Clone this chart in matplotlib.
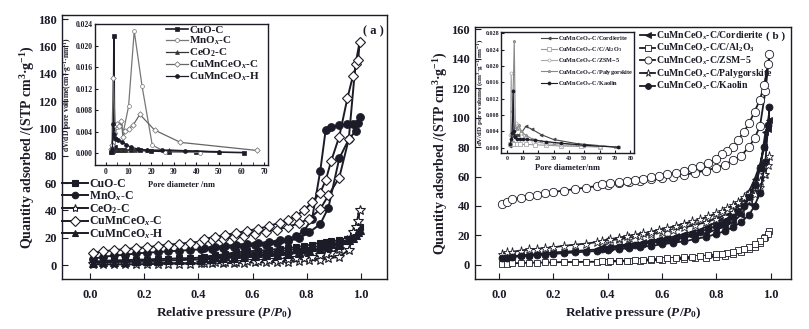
import numpy as np
import matplotlib.pyplot as plt

plt.rcParams['font.family'] = 'Liberation Serif'
plt.rcParams['font.weight'] = 'bold'
plt.rcParams['mathtext.fontset'] = 'custom'
plt.rcParams['mathtext.rm'] = 'Liberation Serif:bold'
plt.rcParams['mathtext.it'] = 'Liberation Serif:italic:bold'
plt.rcParams['mathtext.bf'] = 'Liberation Serif:bold'
ink = '#1c1c28'

# ---------------- panel (a): isotherms ----------------
P_ads_a = [0.01, 0.05, 0.09, 0.13, 0.17, 0.21, 0.25, 0.29, 0.33, 0.37, 0.41, 0.45, 0.49, 0.53,
           0.57, 0.61, 0.65, 0.69, 0.73, 0.77, 0.81, 0.85, 0.88, 0.92, 0.955, 0.98, 0.995]
P_des_a = [0.99, 0.97, 0.95, 0.92, 0.89, 0.87, 0.85, 0.82, 0.79, 0.76, 0.73, 0.70, 0.66, 0.62,
           0.58, 0.54, 0.50, 0.46, 0.42]

cuo_ads = [2.5, 3, 3.5, 3.5, 4, 4, 4.5, 4.5, 5, 5, 5.5, 5.5, 6, 6.5, 7, 7.5, 8, 8.5, 9, 10,
           11, 12, 13.5, 16, 19, 23, 28]
cuo_des = [26, 21, 19, 18, 17.5, 17, 16.5, 15, 14, 13, 12.5, 12, 11, 10.5, 10, 9.5, 8, 7, 6]
mnox_ads = [4.5, 6, 7, 7.5, 8.5, 9, 9.5, 10, 10.5, 11, 11.5, 12, 12.5, 13, 13.5, 14.5, 15, 16,
            17.5, 19.5, 24, 30, 42, 78, 92, 98, 108]
mnox_des = [104, 103, 103, 102.5, 101, 99, 69, 34, 25, 21, 19, 18, 17, 16, 15.5, 15, 14, 13.5, 12.5]
ceo2_ads = [0.5, 0.5, 0.5, 0.5, 0.5, 0.7, 0.8, 1, 1, 1, 1.2, 1.3, 1.5, 1.5, 1.7, 2, 2, 2.2,
            2.5, 3, 3.5, 4, 5, 6, 11, 28, 40]
ceo2_des = [32, 24, 18, 12, 9, 8, 7, 6, 5.5, 5, 4.5, 4, 3.5, 3, 3, 2.5, 2.5, 2, 1.5]
cmcc_ads = [9, 10, 11, 11.5, 12.5, 13, 14, 15, 15.5, 16.5, 17, 18, 19, 20.5, 21.5, 23, 24.5,
            26, 28, 30.5, 34, 41, 51, 64, 92, 147, 163]
cmcc_des = [150, 138, 122, 94, 76, 62, 53, 46, 40, 36, 33, 31, 28.5, 26.5, 25, 23.5, 22, 20.5, 19]
cmch_ads = [1.5, 2, 2.5, 2.5, 3, 3, 3, 3.5, 3.5, 4, 4, 4.5, 5, 5.5, 6, 6.5, 7, 7.5, 8, 9,
            10, 11.5, 13, 15, 18, 22, 26]
cmch_des = [24, 20, 18, 16.5, 15.5, 15, 14, 13, 12, 11.5, 11, 10, 9.5, 9, 8.5, 8, 7, 6, 5]

# panel (a) inset: pore size distribution
cuo_D = [2.2, 2.8, 3.2, 3.5, 3.8, 4.5, 6, 8, 11, 15, 20, 28, 40, 61]
cuo_V = [0.0002, 0.0003, 0.0008, 0.0217, 0.0012, 0.0006, 0.0005, 0.0005, 0.0006, 0.0005,
         0.0004, 0.0003, 0.0003, 0.0001]
mnox_D = [2.0, 2.6, 3.2, 4.0, 5.0, 6.2, 7.8, 10.0, 12.5, 16.0, 20.5, 26.0, 41.5]
mnox_V = [0.0002, 0.0009, 0.0021, 0.0038, 0.0048, 0.0052, 0.0042, 0.0087, 0.0227, 0.0124,
          0.0015, 0.0003, 0.0001]
ceo2_D = [2.0, 3.0, 4.5, 6.5, 9.0, 13.0, 18.0, 28.0, 50.0]
ceo2_V = [0.0003, 0.0004, 0.0005, 0.0006, 0.0005, 0.0006, 0.0005, 0.0006, 0.0002]
cmcc_D = [2.0, 2.6, 3.2, 4.0, 4.8, 5.8, 6.8, 7.5, 8.5, 10.0, 12.0, 15.0, 21.5, 33.0, 67.0]
cmcc_V = [0.0008, 0.0015, 0.0140, 0.0052, 0.0055, 0.0050, 0.0060, 0.0030, 0.0042, 0.0045,
          0.0052, 0.0072, 0.0043, 0.0020, 0.0005]
cmch_D = [2.2, 2.8, 3.2, 3.5, 3.8, 4.5, 5.5, 7.0, 9.0, 11.0, 14.0, 18.0, 25.0, 35.0, 50.0]
cmch_V = [0.0003, 0.0008, 0.0055, 0.0035, 0.0028, 0.0026, 0.0024, 0.0021, 0.0016, 0.0011,
          0.0008, 0.0006, 0.0005, 0.0004, 0.0003]

# ---------------- panel (b): isotherms ----------------
P_ads_b = [0.01, 0.03, 0.05, 0.08, 0.11, 0.14, 0.17, 0.20, 0.24, 0.28, 0.32, 0.36, 0.40, 0.44,
           0.48, 0.52, 0.56, 0.60, 0.64, 0.68, 0.72, 0.76, 0.80, 0.83, 0.86, 0.89, 0.92, 0.94,
           0.96, 0.98, 0.995]
P_des_b = [0.99, 0.975, 0.96, 0.94, 0.92, 0.90, 0.88, 0.86, 0.84, 0.82, 0.80, 0.77, 0.74, 0.71,
           0.68, 0.65, 0.62, 0.59, 0.56, 0.53, 0.50, 0.47, 0.44, 0.41, 0.38]

cord_ads = [5, 5.5, 6, 6.5, 7, 7.5, 8, 8.5, 9, 9.5, 10, 10.5, 11.5, 12, 13, 14, 15, 16, 17,
            18.5, 20, 21.5, 24, 26, 29, 34, 42, 52, 65, 90, 98]
cord_des = [92, 80, 68, 58, 50, 44, 40, 36, 33, 31, 29, 26.5, 24, 22.5, 21, 19.5, 18.5, 17.5,
            16.5, 15.5, 14.5, 14, 13, 12.5, 12]
al_ads = [1, 1, 1.2, 1.3, 1.5, 1.6, 1.7, 1.8, 2, 2, 2.1, 2.2, 2.3, 2.5, 2.7, 2.9, 3.1, 3.4,
          3.7, 4.1, 4.5, 5, 5.7, 6.3, 7.2, 8.5, 10.5, 12.5, 15, 19, 23]
al_des = [21, 18, 16.5, 14, 12.5, 11, 10, 9, 8.3, 7.7, 7.2, 6.5, 6, 5.6, 5.2, 4.8, 4.5, 4.2,
          3.9, 3.6, 3.3, 3, 2.8, 2.6, 2.4]
zsm_ads = [41.5, 43, 44.5, 45.5, 46.5, 47.5, 48.5, 49.5, 50.5, 51.5, 52.5, 53.5, 54.5, 55.5,
           56, 57, 58, 59, 60, 61, 62.5, 64, 66, 68, 71, 74, 80, 86, 94, 118, 143]
zsm_des = [136, 122, 112, 104, 96, 90, 85, 80, 77, 75, 72, 69, 67, 65.5, 64, 62.5, 61.5, 60.5,
           59.5, 58.5, 57.5, 57, 56, 55.5, 55]
paly_ads = [7.5, 8.5, 9, 9.8, 10.5, 11, 11.5, 12, 13, 13.8, 14.5, 15.5, 16.5, 17.5, 18.5, 19.5,
            21, 22.5, 24, 25.5, 27, 29, 31.5, 33.5, 36, 39, 44, 48, 53, 62, 74]
paly_des = [68, 62, 57, 53, 49, 46, 43, 40.5, 38.5, 36.5, 35, 33, 31, 29.5, 28, 26.5, 25, 24,
            22.5, 21.5, 20.5, 19.5, 18.5, 17.5, 16.5]
kao_ads = [4.5, 5, 5.5, 5.8, 6.2, 6.6, 7, 7.5, 8, 8.5, 9, 9.5, 10, 10.8, 11.5, 12.3, 13, 14,
           15, 16, 17.5, 19, 21, 23, 25.5, 29, 34, 40, 49, 70, 107]
kao_des = [95, 80, 66, 54, 46, 40, 36, 32.5, 30, 28, 26.5, 24.5, 22.5, 21, 19.5, 18.5, 17.5,
           16.5, 15.5, 14.5, 13.8, 13, 12.2, 11.5, 11]

# panel (b) inset
cord_D = [2.0, 2.8, 3.5, 4.0, 4.5, 5.5, 7.0, 9.0, 12.0, 16.0, 22.0, 30.0, 45.0, 72.0]
cord_V = [0.0005, 0.0015, 0.0028, 0.0030, 0.0032, 0.0030, 0.0030, 0.0035, 0.0052, 0.0045,
          0.0032, 0.0020, 0.0010, 0.0001]
al_D = [2.0, 3.0, 3.8, 4.5, 6.0, 8.0, 12.0, 18.0, 25.0, 35.0, 48.0, 60.0]
al_V = [0.0008, 0.0012, 0.0010, 0.0009, 0.0008, 0.0008, 0.0008, 0.0007, 0.0006, 0.0004,
        0.0003, 0.0002]
zsm_D = [2.0, 2.5, 3.2, 3.8, 4.5, 5.5, 7.0, 9.0, 12.0, 17.0, 25.0, 35.0, 50.0, 60.0]
zsm_V = [0.0030, 0.0182, 0.0095, 0.0035, 0.0050, 0.0060, 0.0055, 0.0035, 0.0022, 0.0015,
         0.0010, 0.0006, 0.0003, 0.0002]
paly_D = [2.0, 2.6, 3.2, 3.8, 4.5, 5.2, 6.0, 7.5, 9.0, 12.0, 16.0, 22.0, 30.0, 45.0, 70.0]
paly_V = [0.0010, 0.0030, 0.0090, 0.0140, 0.0262, 0.0050, 0.0045, 0.0055, 0.0040, 0.0030,
          0.0022, 0.0016, 0.0012, 0.0006, 0.0002]
kao_D = [2.0, 2.6, 3.2, 3.8, 4.3, 5.0, 6.5, 8.0, 10.0, 13.0, 18.0, 25.0, 35.0, 50.0, 72.0]
kao_V = [0.0010, 0.0020, 0.0035, 0.0138, 0.0040, 0.0025, 0.0022, 0.0022, 0.0021, 0.0020,
         0.0018, 0.0015, 0.0011, 0.0006, 0.0001]

labels_a = ['CuO-C', 'MnO$_x$-C', 'CeO$_2$-C', 'CuMnCeO$_x$-C', 'CuMnCeO$_x$-H']
labels_b = ['CuMnCeO$_x$-C/Cordierite', 'CuMnCeO$_x$-C/C/Al$_2$O$_3$', 'CuMnCeO$_x$-C/ZSM$-$5',
            'CuMnCeO$_x$-C/Palygorskite', 'CuMnCeO$_x$-C/Kaolin']


def style_axes(ax, fs, length, pad_x, pad_y):
    for s in ax.spines.values():
        s.set_color(ink)
        s.set_linewidth(1.0)
    ax.tick_params(direction='in', length=length, width=0.8, colors=ink, labelsize=fs)
    ax.tick_params(axis='x', pad=pad_x)
    ax.tick_params(axis='y', pad=pad_y)
    for t in ax.get_xticklabels() + ax.get_yticklabels():
        t.set_fontweight('bold')


fig = plt.figure(figsize=(8.09, 3.29), dpi=100)

# ---------- (a) ----------
axa = fig.add_axes([0.0766, 0.152, 0.4017, 0.8024])
sty_a = [dict(marker='s', mfc=ink, ms=5), dict(marker='o', mfc=ink, ms=5.5),
         dict(marker='*', mfc='white', ms=7), dict(marker='D', mfc='white', ms=5.5),
         dict(marker='^', mfc=ink, ms=5.5)]
data_a = [(cuo_ads, cuo_des), (mnox_ads, mnox_des), (ceo2_ads, ceo2_des),
          (cmcc_ads, cmcc_des), (cmch_ads, cmch_des)]
for (ads, des), st, lab in zip(data_a, sty_a, labels_a):
    kw = dict(color=ink, lw=1.4, mec=ink, mew=0.8)
    kw.update(st)
    axa.plot(P_ads_a + P_des_a, ads + des, label=lab, **kw)
axa.set_xlim(-0.103, 1.096)
axa.set_ylim(-10.2, 183)
axa.set_xticks(np.arange(0, 1.01, 0.2))
axa.set_yticks(np.arange(0, 181, 20))
style_axes(axa, 9, 4, 7, 3.5)
axa.set_xlabel('Relative pressure (${P/P_0}$)', fontsize=9.5, fontweight='bold', color=ink, labelpad=3)
axa.set_ylabel('Quantity adsorbed /(STP cm$^3$·g$^{-1}$)', fontsize=10, fontweight='bold',
               color=ink, labelpad=1)
axa.legend(loc='upper left', bbox_to_anchor=(0.0, 0.383), frameon=False, fontsize=8.5,
           handlelength=2.2, handletextpad=0.1, labelspacing=-0.08, borderaxespad=0,
           borderpad=0, labelcolor=ink, markerscale=0.85)
axa.text(0.957, 0.94, '( a )', transform=axa.transAxes, ha='center', va='center',
         fontsize=9, fontweight='bold', color=ink)

ina = fig.add_axes([0.1174, 0.4985, 0.2138, 0.4286])
sty_ia = [dict(color=ink, marker='s', mfc=ink, mec=ink, lw=1.2),
          dict(color='#777777', marker='o', mfc='white', mec='#777777', lw=0.9),
          dict(color='#333333', marker='^', mfc='#333333', mec='#333333', lw=0.9),
          dict(color='#666666', marker='D', mfc='white', mec='#666666', lw=0.9),
          dict(color=ink, marker='o', mfc=ink, mec=ink, lw=0.9)]
data_ia = [(cuo_D, cuo_V), (mnox_D, mnox_V), (ceo2_D, ceo2_V), (cmcc_D, cmcc_V), (cmch_D, cmch_V)]
for (d, v), st, lab in zip(data_ia, sty_ia, labels_a):
    ina.plot(d, v, ms=2.8, mew=0.5, label=lab, **st)
ina.set_xlim(-4.9, 71.8)
ina.set_ylim(-0.0022, 0.024)
ina.set_xticks(np.arange(0, 71, 10))
ina.set_xticks(np.arange(5, 71, 10), minor=True)
ina.set_yticks(np.arange(0, 0.0241, 0.004))
ina.set_yticklabels(['%.3f' % v for v in np.arange(0, 0.0241, 0.004)])
style_axes(ina, 5.5, 2.5, 2.5, 1.5)
ina.tick_params(which='minor', direction='in', length=2.5, width=0.6, colors=ink)
ina.set_xlabel('Pore diameter /nm', fontsize=6, fontweight='bold', color=ink, labelpad=3)
ina.set_ylabel('dV/dD pore volume(cm$^3$·g$^{-1}$·nm$^{-1}$)', fontsize=5.5, fontweight='bold',
               color=ink, labelpad=1)
ina.legend(loc='upper left', bbox_to_anchor=(0.41, 0.99), frameon=False, fontsize=8,
           handlelength=2.0, handletextpad=0.1, labelspacing=-0.05, borderaxespad=0,
           borderpad=0, labelcolor=ink)

# ---------- (b) ----------
axb = fig.add_axes([0.5871, 0.152, 0.3906, 0.766])
sty_b = [dict(marker='<', mfc=ink, ms=5), dict(marker='s', mfc='white', ms=5),
         dict(marker='o', mfc='white', ms=6), dict(marker='*', mfc='white', ms=6.5),
         dict(marker='o', mfc=ink, ms=5)]
data_b = [(cord_ads, cord_des), (al_ads, al_des), (zsm_ads, zsm_des),
          (paly_ads, paly_des), (kao_ads, kao_des)]
for (ads, des), st, lab in zip(data_b, sty_b, labels_b):
    kw = dict(color=ink, lw=1.3, mec=ink, mew=0.6)
    kw.update(st)
    axb.plot(P_ads_b + P_des_b, ads + des, label=lab, **kw)
axb.set_xlim(-0.088, 1.074)
axb.set_ylim(-9.5, 161.4)
axb.set_xticks(np.arange(0, 1.01, 0.2))
axb.set_yticks(np.arange(0, 161, 20))
style_axes(axb, 9, 4, 7, 3.5)
axb.set_xlabel('Relative pressure (${P/P_0}$)', fontsize=9.5, fontweight='bold', color=ink, labelpad=3)
axb.set_ylabel('Quantity adsorbed /(STP cm$^3$·g$^{-1}$)', fontsize=10, fontweight='bold',
               color=ink, labelpad=1)
axb.legend(loc='upper left', bbox_to_anchor=(0.522, 0.99), frameon=False, fontsize=7,
           handlelength=1.6, handletextpad=0.1, labelspacing=0.0, borderaxespad=0,
           borderpad=0, labelcolor=ink, markerscale=0.85)
axb.text(0.952, 0.964, '( b )', transform=axb.transAxes, ha='center', va='center',
         fontsize=8, fontweight='bold', color=ink)

inb = fig.add_axes([0.6193, 0.535, 0.1644, 0.3678])
sty_ib = [dict(color='#444444', marker='<', mfc='#444444', mec='#444444'),
          dict(color='#999999', marker='s', mfc='white', mec='#999999'),
          dict(color='#aaaaaa', marker='o', mfc='white', mec='#aaaaaa'),
          dict(color='#888888', marker='*', mfc='white', mec='#888888'),
          dict(color=ink, marker='o', mfc=ink, mec=ink)]
data_ib = [(cord_D, cord_V), (al_D, al_V), (zsm_D, zsm_V), (paly_D, paly_V), (kao_D, kao_V)]
for (d, v), st, lab in zip(data_ib, sty_ib, labels_b):
    inb.plot(d, v, ms=2.2, mew=0.5, lw=0.8, label=lab, **st)
inb.set_xlim(-4.1, 82.3)
inb.set_ylim(-0.0013, 0.0283)
inb.set_xticks(np.arange(0, 81, 10))
inb.set_yticks(np.arange(0, 0.0281, 0.004))
inb.set_yticklabels(['%.3f' % v for v in np.arange(0, 0.0281, 0.004)])
style_axes(inb, 4.3, 2, 2.5, 1.2)
inb.set_xlabel('Pore diameter/nm', fontsize=6, fontweight='bold', color=ink, labelpad=2)
inb.set_ylabel('dV/dD pore volume (cm$^3$·g$^{-1}$·nm$^{-1}$)', fontsize=5, fontweight='bold',
               color=ink, labelpad=0.5)
inb.legend(loc='upper left', bbox_to_anchor=(0.30, 0.98), frameon=False, fontsize=4.5,
           handlelength=2.5, handletextpad=0.3, labelspacing=0.35, borderaxespad=0,
           borderpad=0, labelcolor=ink)

fig.savefig('out.png', dpi=100)
